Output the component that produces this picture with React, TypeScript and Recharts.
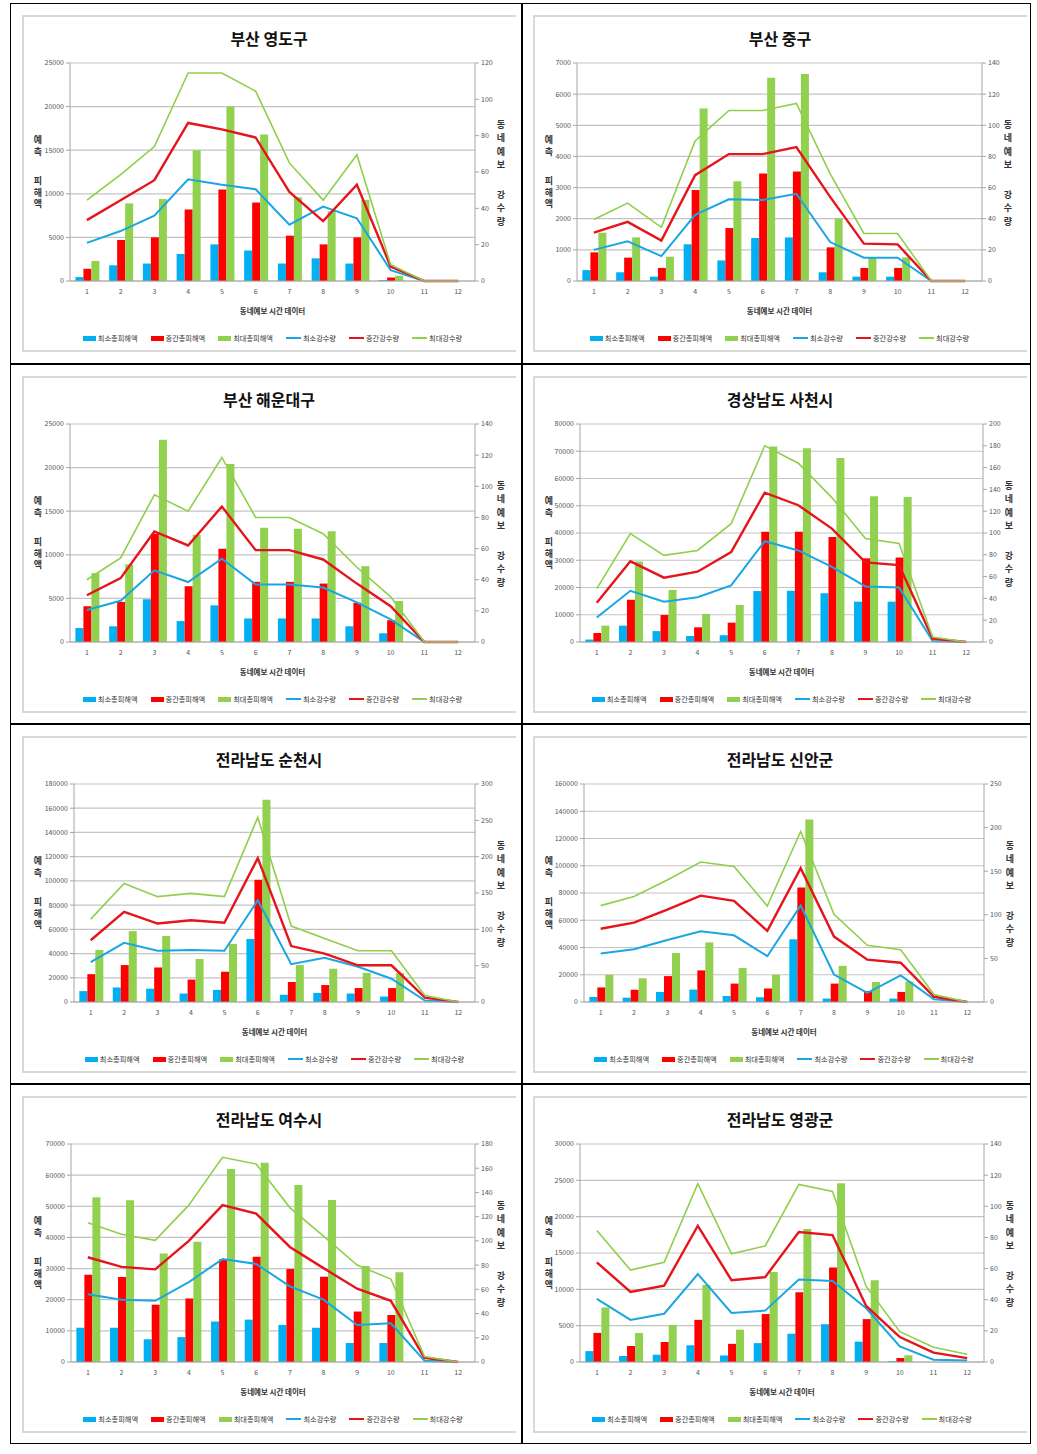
import React from 'react';
import { ComposedChart, Bar, Line, XAxis, YAxis, CartesianGrid } from 'recharts';

// x categories and labels shared by every panel
const categories = ['1', '2', '3', '4', '5', '6', '7', '8', '9', '10', '11', '12'];
const seriesNames = ['최소총피해액', '중간총피해액', '최대총피해액', '최소강수량', '중간강수량', '최대강수량'];
const xAxisTitle = '동네예보 시간 데이터';
const leftAxisTitle = '예측 피해액';
const rightAxisTitle = '동네예보 강수량';

// axis ticks
const ticks7k = [0, 1000, 2000, 3000, 4000, 5000, 6000, 7000];
const ticks25k = [0, 5000, 10000, 15000, 20000, 25000];
const ticks30k = [0, 5000, 10000, 15000, 20000, 25000, 30000];
const ticks70k = [0, 10000, 20000, 30000, 40000, 50000, 60000, 70000];
const ticks80k = [0, 10000, 20000, 30000, 40000, 50000, 60000, 70000, 80000];
const ticks160k = [0, 20000, 40000, 60000, 80000, 100000, 120000, 140000, 160000];
const ticks180k = [0, 20000, 40000, 60000, 80000, 100000, 120000, 140000, 160000, 180000];
const rain120 = [0, 20, 40, 60, 80, 100, 120];
const rain140 = [0, 20, 40, 60, 80, 100, 120, 140];
const rain180 = [0, 20, 40, 60, 80, 100, 120, 140, 160, 180];
const rain200 = [0, 20, 40, 60, 80, 100, 120, 140, 160, 180, 200];
const rain250 = [0, 50, 100, 150, 200, 250];
const rain300 = [0, 50, 100, 150, 200, 250, 300];

// 부산 영도구
const yeongdoMinLoss = [450, 1800, 2000, 3100, 4200, 3500, 2000, 2600, 2000, 100, 0, 0];
const yeongdoMidLoss = [1400, 4700, 5000, 8200, 10500, 9000, 5200, 4200, 5000, 400, 0, 0];
const yeongdoMaxLoss = [2300, 8900, 9400, 15000, 20000, 16800, 9600, 8000, 9300, 600, 0, 0];
const yeongdoMinRain = [21, 27.5, 36, 56, 53, 50.5, 31, 41, 34.5, 6, 0, 0];
const yeongdoMidRain = [33.5, 44.5, 55.5, 87, 83.5, 79, 49, 33, 53, 8, 0, 0];
const yeongdoMaxRain = [44.5, 58.5, 74, 114.5, 114.5, 104.5, 65, 44.5, 69.5, 9, 0, 0];

// 부산 중구
const jungguMinLoss = [350, 280, 140, 1180, 660, 1380, 1400, 280, 140, 140, 0, 0];
const jungguMidLoss = [920, 750, 420, 2920, 1700, 3450, 3520, 1080, 420, 420, 0, 0];
const jungguMaxLoss = [1550, 1400, 780, 5540, 3200, 6530, 6650, 2010, 760, 760, 0, 0];
const jungguMinRain = [20, 25.5, 16, 42.5, 52.5, 52, 56, 25, 15, 15, 0, 0];
const jungguMidRain = [31, 38, 26, 68, 81.5, 81.5, 86, 54, 24, 23.5, 0, 0];
const jungguMaxRain = [39.5, 50, 34.5, 90, 109.5, 109.5, 114, 69, 30.5, 30.5, 0, 0];

// 부산 해운대구
const haeundaeMinLoss = [1600, 1800, 4900, 2400, 4200, 2700, 2700, 2700, 1800, 1000, 0, 0];
const haeundaeMidLoss = [4100, 4600, 12400, 6400, 10700, 6900, 6900, 6700, 4500, 2500, 0, 0];
const haeundaeMaxLoss = [7900, 8900, 23200, 12300, 20400, 13100, 13000, 12700, 8700, 4700, 0, 0];
const haeundaeMinRain = [20.5, 26.5, 46, 38.5, 53.5, 37, 37, 35, 25.5, 14.5, 0, 0];
const haeundaeMidRain = [30, 41, 71, 62, 87, 59, 59, 53, 37.5, 23, 0, 0];
const haeundaeMaxRain = [40, 54, 94.5, 84, 118.5, 80, 80, 69.5, 48, 29, 0, 0];

// 경상남도 사천시
const sacheonMinLoss = [900, 6000, 4000, 2200, 2500, 18700, 18800, 17900, 14800, 14800, 0, 0];
const sacheonMidLoss = [3300, 15500, 9900, 5400, 7100, 40500, 40500, 38500, 30700, 31000, 0, 0];
const sacheonMaxLoss = [6000, 29500, 19100, 10300, 13600, 71700, 71100, 67500, 53500, 53200, 0, 0];
const sacheonMinRain = [22.5, 47, 37, 41, 52, 92.5, 84, 69, 51, 50, 1, 0];
const sacheonMidRain = [36, 74, 59, 64.5, 82.5, 137, 125.5, 104, 73, 70.5, 3, 0];
const sacheonMaxRain = [49, 99.5, 79.5, 84, 108.5, 180, 164, 132.5, 95, 90.5, 4.5, 0];

// 전라남도 순천시
const suncheonMinLoss = [9000, 12000, 11000, 7000, 10000, 52000, 6000, 7500, 7000, 4500, 0, 0];
const suncheonMidLoss = [23000, 30500, 28500, 18500, 25000, 101000, 16500, 14000, 11500, 11500, 0, 0];
const suncheonMaxLoss = [43000, 58500, 54500, 35500, 48000, 167000, 30500, 27500, 24000, 24000, 0, 0];
const suncheonMinRain = [55, 81.5, 70.5, 71.5, 70.5, 140, 52, 61, 48.5, 32, 2, 0];
const suncheonMidRain = [85, 124, 108, 112.5, 109, 198, 77, 66.5, 50.5, 50.5, 6, 0];
const suncheonMaxRain = [114, 163, 145, 149.5, 145, 254, 104.5, 87.5, 70.5, 70.5, 9, 0];

// 전라남도 신안군
const sinanMinLoss = [3700, 3200, 7400, 9100, 4400, 3500, 46000, 2500, 0, 2500, 0, 0];
const sinanMidLoss = [10700, 9000, 19000, 23200, 13500, 9900, 84000, 13500, 8000, 7400, 0, 0];
const sinanMaxLoss = [20000, 17400, 36000, 43700, 25000, 20000, 134000, 26500, 14700, 15000, 0, 0];
const sinanMinRain = [55.5, 60.5, 71, 81, 76.5, 52.5, 110.5, 31.5, 10.5, 30.5, 3, 0];
const sinanMidRain = [84, 91, 106, 122, 116, 81.5, 153.5, 75, 48.5, 45, 6, 0];
const sinanMaxRain = [110.5, 121, 140, 160.5, 155.5, 110, 195.5, 100.5, 65, 60, 8.5, 0];

// 전라남도 여수시
const yeosuMinLoss = [11000, 11000, 7300, 8000, 13000, 13600, 11900, 11000, 6100, 6100, 0, 0];
const yeosuMidLoss = [28000, 27300, 18400, 20400, 33000, 33800, 29900, 27400, 16200, 15100, 0, 0];
const yeosuMaxLoss = [52900, 51900, 34800, 38600, 62000, 64000, 56800, 52000, 30800, 28800, 0, 0];
const yeosuMinRain = [56, 51.5, 50.5, 66, 85, 81, 62.5, 51.5, 30.5, 32, 1, 0];
const yeosuMidRain = [86.5, 78.5, 76.5, 100, 129.5, 122.5, 95, 77.5, 60.5, 50.5, 3.5, 0];
const yeosuMaxRain = [115, 105.5, 100.5, 129.5, 169, 163.5, 127.5, 104, 80, 68.5, 4.5, 0];

// 전라남도 영광군
const yeonggwangMinLoss = [1500, 830, 1000, 2300, 900, 2600, 3900, 5200, 2800, 100, 0, 0];
const yeonggwangMidLoss = [4000, 2200, 2750, 5800, 2500, 6600, 9600, 13000, 5900, 550, 0, 0];
const yeonggwangMaxLoss = [7500, 4000, 5100, 10600, 4450, 12400, 18300, 24600, 11250, 920, 0, 0];
const yeonggwangMinRain = [40.5, 27, 31, 56.5, 31.5, 33, 53, 52, 34.5, 10, 1.5, 1];
const yeonggwangMidRain = [64, 45, 49, 87.5, 52.5, 54.5, 83.5, 81.5, 36, 16, 6, 2.5];
const yeonggwangMaxRain = [84.5, 59, 64, 114.5, 69.5, 74.5, 114, 109.5, 48.5, 19.5, 9.5, 5];

const BAR_COLORS = ['#00b0f0', '#ff0000', '#92d050'];
const LINE_COLORS = ['#1aa6e2', '#e6141b', '#8fcf4a'];
const LINE_WIDTHS = [2, 2.4, 1.6];

const FRAME_W = 494;
const FRAME_H = 337;
const CHART_H = 305;
const FONT = "'Noto Sans CJK KR', 'Noto Sans', sans-serif";

const panels = [
  { title: '부산 영도구', loss: [yeongdoMinLoss, yeongdoMidLoss, yeongdoMaxLoss], rain: [yeongdoMinRain, yeongdoMidRain, yeongdoMaxRain], lossTicks: ticks25k, rainTicks: rain120, leftW: 48, rightW: 41 },
  { title: '부산 중구', loss: [jungguMinLoss, jungguMidLoss, jungguMaxLoss], rain: [jungguMinRain, jungguMidRain, jungguMaxRain], lossTicks: ticks7k, rainTicks: rain140, leftW: 44, rightW: 45 },
  { title: '부산 해운대구', loss: [haeundaeMinLoss, haeundaeMidLoss, haeundaeMaxLoss], rain: [haeundaeMinRain, haeundaeMidRain, haeundaeMaxRain], lossTicks: ticks25k, rainTicks: rain140, leftW: 48, rightW: 41 },
  { title: '경상남도 사천시', loss: [sacheonMinLoss, sacheonMidLoss, sacheonMaxLoss], rain: [sacheonMinRain, sacheonMidRain, sacheonMaxRain], lossTicks: ticks80k, rainTicks: rain200, leftW: 47, rightW: 44 },
  { title: '전라남도 순천시', loss: [suncheonMinLoss, suncheonMidLoss, suncheonMaxLoss], rain: [suncheonMinRain, suncheonMidRain, suncheonMaxRain], lossTicks: ticks180k, rainTicks: rain300, leftW: 52, rightW: 41 },
  { title: '전라남도 신안군', loss: [sinanMinLoss, sinanMidLoss, sinanMaxLoss], rain: [sinanMinRain, sinanMidRain, sinanMaxRain], lossTicks: ticks160k, rainTicks: rain250, leftW: 51, rightW: 43 },
  { title: '전라남도 여수시', loss: [yeosuMinLoss, yeosuMidLoss, yeosuMaxLoss], rain: [yeosuMinRain, yeosuMidRain, yeosuMaxRain], lossTicks: ticks70k, rainTicks: rain180, leftW: 49, rightW: 41 },
  { title: '전라남도 영광군', loss: [yeonggwangMinLoss, yeonggwangMidLoss, yeonggwangMaxLoss], rain: [yeonggwangMinRain, yeonggwangMidRain, yeonggwangMaxRain], lossTicks: ticks30k, rainTicks: rain140, leftW: 47, rightW: 43 },
];

// stacks characters top-to-bottom, a space becomes a taller blank slot
function VerticalText({ text, x, cy, step, gap, size }: any) {
  const chars = Array.from(text as string);
  const total = chars.reduce((s: number, c) => s + (c === ' ' ? gap : step), 0);
  return (
    <div style={{ position: 'absolute', left: x - size / 2, top: cy - total / 2, width: size, display: 'flex', flexDirection: 'column', alignItems: 'center', fontSize: size, fontWeight: 700, color: '#333', lineHeight: 1 }}>
      {chars.map((c, i) => (
        <div key={i} style={{ height: c === ' ' ? gap : step, lineHeight: `${step}px` }}>{c === ' ' ? '' : c}</div>
      ))}
    </div>
  );
}

function LegendRow({ left, width, top }: any) {
  return (
    <div style={{ position: 'absolute', left, top, width, display: 'flex', justifyContent: 'center', gap: 13, fontSize: 7.2, color: '#333', alignItems: 'center', height: 10 }}>
      {seriesNames.map((name, i) => (
        <div key={name} style={{ display: 'flex', alignItems: 'center', gap: 2, whiteSpace: 'nowrap' }}>
          {i < 3 ? (
            <span style={{ display: 'inline-block', width: 13, height: 5, background: BAR_COLORS[i] }} />
          ) : (
            <span style={{ display: 'inline-block', width: 15, height: LINE_WIDTHS[i - 3], background: LINE_COLORS[i - 3] }} />
          )}
          <span>{name}</span>
        </div>
      ))}
    </div>
  );
}

function Panel({ p, left, top }: any) {
  const data = categories.map((c, i) => ({
    name: c,
    minLoss: p.loss[0][i],
    midLoss: p.loss[1][i],
    maxLoss: p.loss[2][i],
    minRain: p.rain[0][i],
    midRain: p.rain[1][i],
    maxRain: p.rain[2][i],
  }));
  const plotLeft = p.leftW;
  const plotRight = FRAME_W - p.rightW;
  const lossMax = p.lossTicks[p.lossTicks.length - 1];
  const rainMax = p.rainTicks[p.rainTicks.length - 1];
  const tickStyle = { fontSize: 7, fill: '#555' };
  const axisGray = '#a6a6a6';

  return (
    <div style={{ position: 'absolute', left, top, width: FRAME_W, height: FRAME_H }}>
      <div style={{ position: 'absolute', left: 0, top: 0, width: FRAME_W, height: FRAME_H, boxSizing: 'border-box', borderTop: '2px solid #d9d9d9', borderLeft: '2px solid #d9d9d9', borderBottom: '2px solid #d9d9d9' }} />
      <div style={{ position: 'absolute', left: 0, top: 13, width: FRAME_W, textAlign: 'center', fontSize: 16, fontWeight: 700, color: '#111', lineHeight: '20px' }}>
        {p.title}
      </div>
      <div style={{ position: 'absolute', left: 0, top: 0 }}>
        <ComposedChart
          width={FRAME_W}
          height={CHART_H}
          data={data}
          margin={{ top: 48, right: 0, left: 0, bottom: 3 }}
          barCategoryGap="16%"
          barGap={0}
        >
          <CartesianGrid yAxisId="left" vertical={false} stroke="#c4c4c4" strokeWidth={1.2} />
          <XAxis
            dataKey="name"
            interval={0}
            height={36}
            tick={tickStyle}
            tickLine={false}
            axisLine={{ stroke: axisGray }}
            label={{ value: xAxisTitle, position: 'insideBottom', offset: 3, fontSize: 7.5, fill: '#333', fontWeight: 700 }}
          />
          <YAxis
            yAxisId="left"
            orientation="left"
            width={p.leftW}
            domain={[0, lossMax]}
            ticks={p.lossTicks}
            interval={0}
            tick={tickStyle}
            tickSize={4}
            tickMargin={2}
            tickLine={{ stroke: axisGray }}
            axisLine={{ stroke: axisGray }}
          />
          <YAxis
            yAxisId="right"
            orientation="right"
            width={p.rightW}
            domain={[0, rainMax]}
            ticks={p.rainTicks}
            interval={0}
            tick={tickStyle}
            tickSize={4}
            tickMargin={2}
            tickLine={{ stroke: axisGray }}
            axisLine={{ stroke: axisGray }}
          />
          <Bar yAxisId="left" dataKey="minLoss" name={seriesNames[0]} fill={BAR_COLORS[0]} isAnimationActive={false} />
          <Bar yAxisId="left" dataKey="midLoss" name={seriesNames[1]} fill={BAR_COLORS[1]} isAnimationActive={false} />
          <Bar yAxisId="left" dataKey="maxLoss" name={seriesNames[2]} fill={BAR_COLORS[2]} isAnimationActive={false} />
          <Line yAxisId="right" type="linear" dataKey="minRain" name={seriesNames[3]} stroke={LINE_COLORS[0]} strokeWidth={LINE_WIDTHS[0]} dot={false} activeDot={false} isAnimationActive={false} />
          <Line yAxisId="right" type="linear" dataKey="midRain" name={seriesNames[4]} stroke={LINE_COLORS[1]} strokeWidth={LINE_WIDTHS[1]} dot={false} activeDot={false} isAnimationActive={false} />
          <Line yAxisId="right" type="linear" dataKey="maxRain" name={seriesNames[5]} stroke={LINE_COLORS[2]} strokeWidth={LINE_WIDTHS[2]} dot={false} activeDot={false} isAnimationActive={false} />
        </ComposedChart>
      </div>
      <VerticalText text={leftAxisTitle} x={16} cy={157} step={11.5} gap={18} size={9} />
      <VerticalText text={rightAxisTitle} x={plotRight + 26} cy={158} step={13.3} gap={17} size={9} />
      <LegendRow left={plotLeft} width={plotRight - plotLeft} top={318} />
    </div>
  );
}

const rowTops = [3, 363, 723, 1083];
const frameTops = [15, 376, 736, 1096];
const frameLefts = [22, 533];

export default function App() {
  return (
    <div style={{ position: 'absolute', left: 0, top: 0, width: 1037, height: 1454, background: '#fff', fontFamily: FONT }}>
      {/* table rules */}
      <div style={{ position: 'absolute', left: 10, top: 3, width: 1021, height: 1441, boxSizing: 'border-box', border: '1.5px solid #000' }} />
      <div style={{ position: 'absolute', left: 521, top: 3, width: 1.5, height: 1441, background: '#000' }} />
      {rowTops.slice(1).map((y) => (
        <div key={y} style={{ position: 'absolute', left: 10, top: y, width: 1021, height: 1.5, background: '#000' }} />
      ))}
      {panels.map((p, i) => (
        <Panel key={p.title} p={p} left={frameLefts[i % 2]} top={frameTops[Math.floor(i / 2)]} />
      ))}
    </div>
  );
}
